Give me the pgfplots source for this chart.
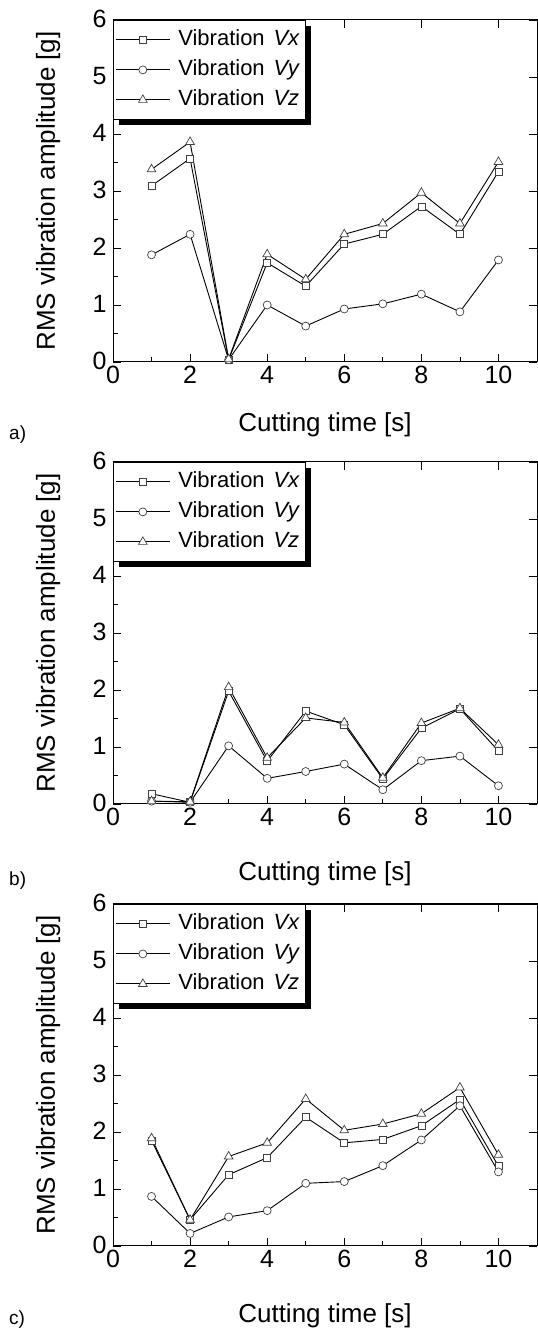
\documentclass[border=0pt]{standalone}
\usepackage{fontspec}
\setmainfont{Liberation Sans}
\usepackage{pgfplots}
\usepackage{pgfplotstable}
\pgfplotsset{compat=1.18}
\usetikzlibrary{shadows}
\makeatletter
\tikzset{nopre/.code={\def\tikz@preactions{}}}
\makeatother

\pgfplotstableread{
x vx vy vz
1 3.09 1.88 3.38
2 3.57 2.24 3.86
3 0.04 0.04 0.05
4 1.74 1.00 1.89
5 1.33 0.63 1.45
6 2.07 0.93 2.24
7 2.24 1.02 2.43
8 2.73 1.19 2.97
9 2.24 0.88 2.43
10 3.34 1.79 3.51
}\dataA
\pgfplotstableread{
x vx vy vz
1 0.18 0.05 0.05
2 0.03 0.03 0.04
3 1.98 1.02 2.05
4 0.75 0.45 0.81
5 1.63 0.57 1.51
6 1.39 0.70 1.43
7 0.44 0.25 0.46
8 1.33 0.76 1.42
9 1.67 0.84 1.68
10 0.93 0.32 1.04
}\dataB
\pgfplotstableread{
x vx vy vz
1 1.85 0.87 1.89
2 0.46 0.22 0.46
3 1.25 0.51 1.57
4 1.55 0.62 1.81
5 2.26 1.10 2.58
6 1.81 1.13 2.03
7 1.87 1.41 2.14
8 2.11 1.86 2.32
9 2.57 2.46 2.78
10 1.40 1.30 1.60
}\dataC

\pgfplotsset{
  base/.style={
    width=424pt, height=342pt, scale only axis,
    xmin=0, xmax=11, ymin=0, ymax=6,
    xtick={0,2,...,10}, ytick={0,1,...,6},
    tick align=inside, major tick length=8pt, minor tick length=5pt,
    axis line style={line width=1pt},
    every tick/.style={black, line width=0.8pt},
  },
  overlay/.style={base, xtick pos=top, ytick pos=right,
    xticklabels={}, yticklabels={}},
  panel/.style={
    base,
    xtick pos=bottom, ytick pos=left,
    minor x tick num=1, minor y tick num=1,
    clip=false,
    ticklabel style={font=\fontsize{25}{30}\selectfont},
    xticklabel style={yshift=-1pt},
    yticklabel style={xshift=-3pt, yshift=1pt},
    /pgf/number format/assume math mode=true,
    label style={font=\fontsize{26}{31}\selectfont},
    xlabel={Cutting time [s]},
    ylabel={RMS vibration amplitude [g]},
    xlabel style={at={(axis description cs:0.5,#1)}, anchor=base},
    ylabel style={at={(axis description cs:-0.1368,0.5)}, anchor=base},
    legend style={at={(0,1)}, anchor=north west, draw=black, fill=white,
      line width=0.8pt,
      font=\fontsize{22}{26}\selectfont,
      inner xsep=2pt, inner ysep=6pt, row sep=3pt, column sep=0pt,
      nodes={nopre, inner ysep=3pt, inner xsep=3pt, text height=16pt, text depth=5pt},
      drop shadow={shadow xshift=6pt, shadow yshift=-6pt, fill=black, opacity=1}},
    legend cell align=left,
    legend image code/.code={%
      \draw[nopre, mark repeat=2,mark phase=2,##1] plot coordinates {(0pt,0pt) (27pt,0pt) (54pt,0pt)};},
  },
  ln/.style={black, line width=0.9pt,
      mark options={fill=white, draw=black!75, line width=0.7pt, solid}},
  sq/.style={ln, mark=square*, mark size=3.5pt},
  ci/.style={ln, mark=*, mark size=4pt},
  tr/.style={ln, mark=triangle*, mark size=5pt},
}

\newcommand{\legs}{%
  \legend{\hspace{5pt}Vibration\hspace{0.4em}\textit{Vx}\hspace{6pt},\hspace{5pt}Vibration\hspace{0.4em}\textit{Vy},\hspace{5pt}Vibration\hspace{0.4em}\textit{Vz}}}

\begin{document}
\begin{tikzpicture}
% panel a
\begin{axis}[overlay, at={(113pt,966pt)}, anchor=south west]
\end{axis}
\begin{axis}[panel=-0.2018, at={(113pt,966pt)}, anchor=south west]
\addplot[sq] table[x=x,y=vx]{\dataA};
\addplot[ci] table[x=x,y=vy]{\dataA};
\addplot[tr] table[x=x,y=vz]{\dataA};
\legs
\end{axis}
% panel b
\begin{axis}[overlay, at={(113pt,524pt)}, anchor=south west]
\end{axis}
\begin{axis}[panel=-0.2251, at={(113pt,524pt)}, anchor=south west]
\addplot[sq] table[x=x,y=vx]{\dataB};
\addplot[ci] table[x=x,y=vy]{\dataB};
\addplot[tr] table[x=x,y=vz]{\dataB};
\legs
\end{axis}
% panel c
\begin{axis}[overlay, at={(113pt,82pt)}, anchor=south west]
\end{axis}
\begin{axis}[panel=-0.2251, at={(113pt,82pt)}, anchor=south west]
\addplot[sq] table[x=x,y=vx]{\dataC};
\addplot[ci] table[x=x,y=vy]{\dataC};
\addplot[tr] table[x=x,y=vz]{\dataC};
\legs
\end{axis}
\node[anchor=base west, font=\fontsize{19}{22}\selectfont, inner sep=0pt] at (9pt,888pt) {a)};
\node[anchor=base west, font=\fontsize{19}{22}\selectfont, inner sep=0pt] at (9pt,442pt) {b)};
\node[anchor=base west, font=\fontsize{19}{22}\selectfont, inner sep=0pt] at (9pt,4pt) {c)};
\pgfresetboundingbox
\path[use as bounding box] (0pt,0pt) rectangle (538pt,1328pt);
\end{tikzpicture}
\end{document}
